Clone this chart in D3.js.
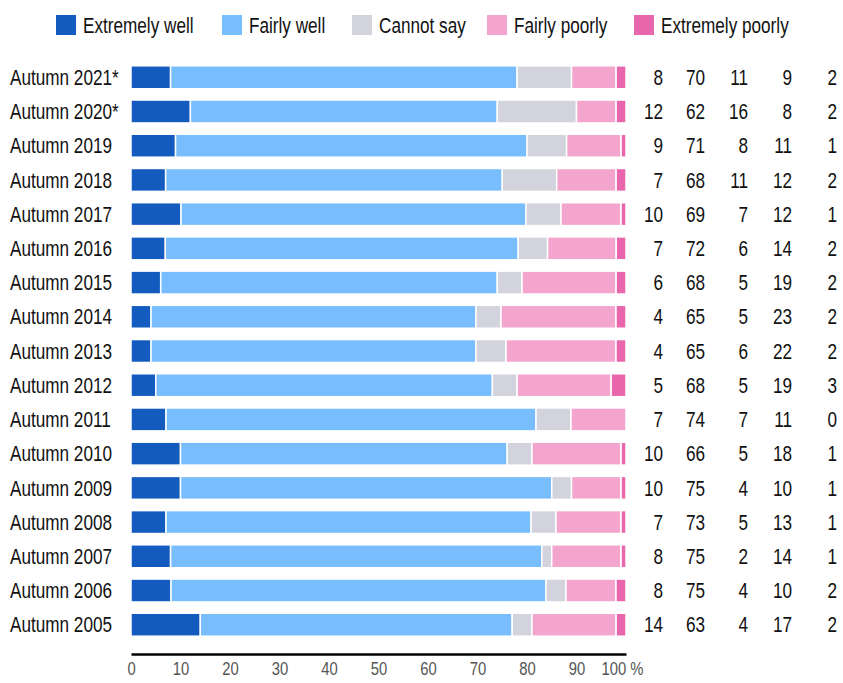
<!DOCTYPE html>
<html><head><meta charset="utf-8">
<script src="https://cdn.jsdelivr.net/npm/d3@7"></script>
<style>
body{margin:0;background:#fff;}
text{font-family:"Liberation Sans",Arial,sans-serif;}
</style></head>
<body><svg id="c" width="843" height="683"></svg>
<script>
const categories=["Autumn 2021*","Autumn 2020*","Autumn 2019","Autumn 2018","Autumn 2017","Autumn 2016","Autumn 2015","Autumn 2014","Autumn 2013","Autumn 2012","Autumn 2011","Autumn 2010","Autumn 2009","Autumn 2008","Autumn 2007","Autumn 2006","Autumn 2005"];
const seriesNames=["Extremely well","Fairly well","Cannot say","Fairly poorly","Extremely poorly"];
const extremelyWell=[8,12,9,7,10,7,6,4,4,5,7,10,10,7,8,8,14];
const fairlyWell=[70,62,71,68,69,72,68,65,65,68,74,66,75,73,75,75,63];
const cannotSay=[11,16,8,11,7,6,5,5,6,5,7,5,4,5,2,4,4];
const fairlyPoorly=[9,8,11,12,12,14,19,23,22,19,11,18,10,13,14,10,17];
const extremelyPoorly=[2,2,1,2,1,2,2,2,2,3,0,1,1,1,1,2,2];
const xTicks=[0,10,20,30,40,50,60,70,80,90,100];
const xTickLabels=["0","10","20","30","40","50","60","70","80","90","100 %"];
const colors=["#135bbf","#78bdfd","#d3d3dd","#f3a5cd","#e866ac"];

const series=[extremelyWell,fairlyWell,cannotSay,fairlyPoorly,extremelyPoorly];
const SX=0.78;
const svg=d3.select("#c");
const x=d3.scaleLinear().domain([0,100]).range([131,626]);
const y=d3.scaleBand().domain(categories).range([60,642]).paddingInner(0.33).paddingOuter(0.17);

function txt(px,py,s,size,anchor,fill){
  return svg.append("text").attr("transform",`translate(${px},${py}) scale(${SX},1)`)
    .attr("dy","0.35em").attr("font-size",size).attr("text-anchor",anchor||"start").attr("fill",fill||"#111").text(s);
}

// legend
const legX=[56,222,352,487,634];
seriesNames.forEach((n,i)=>{
  svg.append("rect").attr("x",legX[i]).attr("y",15).attr("width",20).attr("height",20).attr("fill",colors[i]);
  txt(legX[i]+27,25,n,22);
});

// bars
categories.forEach((c,r)=>{
  const total=d3.sum(series,s=>s[r]);
  let acc=0;
  series.forEach((s,k)=>{
    const v=s[r]/total*100;
    if(v>0){
      svg.append("rect").attr("x",x(acc)).attr("y",y(c)).attr("width",x(acc+v)-x(acc)).attr("height",y.bandwidth())
        .attr("fill",colors[k]).attr("stroke","#fff").attr("stroke-width",1.5);
    }
    acc+=v;
  });
  const cy=y(c)+y.bandwidth()/2;
  txt(10,cy,c,22);
  const colX=[663,705,748,792,837];
  series.forEach((s,k)=>{ txt(colX[k],cy,s[r],22,"end"); });
});

// axis
const ax=svg.append("g").attr("transform","translate(0,654)")
  .call(d3.axisBottom(x).tickValues(xTicks).tickSize(0).tickPadding(8).tickFormat((d,i)=>xTickLabels[i]));
ax.select(".domain").attr("stroke","#000").attr("stroke-width",2.5);
ax.selectAll(".tick text").attr("font-size",19).attr("fill","#555").attr("font-family",null)
  .attr("transform",`scale(${SX},1)`);
ax.selectAll(".tick").filter(d=>d===100).select("text").attr("x",-4/SX);
</script></body></html>
